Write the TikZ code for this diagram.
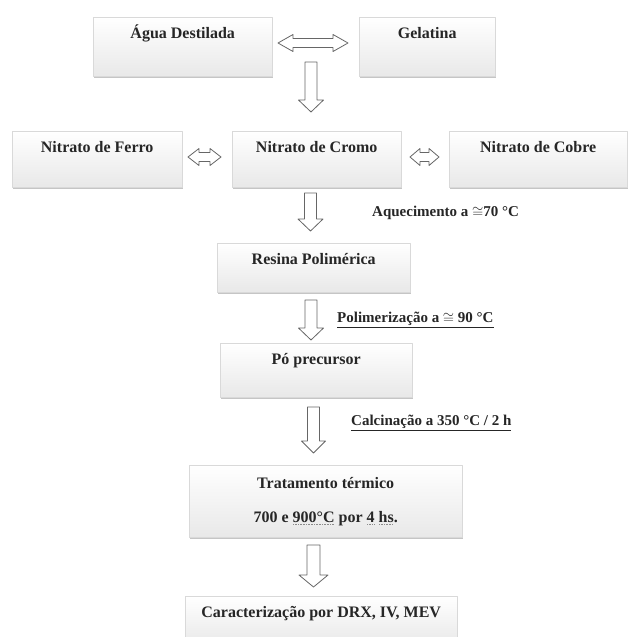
\documentclass[tikz,border=0pt]{standalone}
\usepackage{fontspec}
\setmainfont{Liberation Serif}
\usetikzlibrary{shadows}
\newcommand\pontilhado[1]{\setbox0\hbox{#1}\rlap{\raisebox{-2.5pt}{\color{black!45}\hbox to\wd0{\leaders\hbox to 1.6pt{\hss\rule{0.7pt}{0.7pt}\hss}\hfill}}}\box0\relax}
\newcommand\setabaixo[5]{\draw[seta] (#1-#4,#2) -- (#1+#4,#2) -- (#1+#4,#3-12) -- (#1+#5,#3-12) -- (#1,#3)
	-- (#1-#5,#3-12) -- (#1-#4,#3-12) -- cycle;}
\newcommand\setadupla[4]{\draw[seta] (#1,#3) -- (#1+#4,#3-8.5) -- (#1+#4,#3-4.5) -- (#2-#4,#3-4.5) -- (#2-#4,#3-8.5) -- (#2,#3)
	-- (#2-#4,#3+8.5) -- (#2-#4,#3+4.5) -- (#1+#4,#3+4.5) -- (#1+#4,#3+8.5) -- cycle;}
\begin{document}
\begin{tikzpicture}[
	x=1pt, y=-1pt, line join=round,
	caixa/.style={draw=black!15, top color=white, bottom color=black!9, anchor=north west,
		font=\fontsize{16pt}{19pt}\selectfont\bfseries, text=black!85, align=center,
		inner xsep=2pt, inner ysep=8pt, text height=13pt,
		drop shadow={shadow xshift=.8pt, shadow yshift=-2pt, fill=black!45, opacity=.5}},
	etapa/.style={anchor=west, inner sep=0pt, font=\fontsize{15pt}{18pt}\selectfont\bfseries, text=black!85},
	seta/.style={draw=black!60, fill=white, line width=.8pt}
	]
	\useasboundingbox[fill=white] (0,0) rectangle (628,637);
	\node[caixa, minimum width=179pt, text depth=30pt] (agua) at (93,17) {Água Destilada};
	\node[caixa, minimum width=136pt, text depth=30pt] (gelatina) at (359,17) {Gelatina};
	\setadupla{278}{348}{43}{15}
	\setabaixo{311}{62}{112}{6}{12.5}
	\node[caixa, minimum width=170pt, text depth=27pt] (ferro) at (12,131) {Nitrato de Ferro};
	\node[caixa, minimum width=169pt, text depth=27pt] (cromo) at (232,131) {Nitrato de Cromo};
	\node[caixa, minimum width=178pt, text depth=27pt] (cobre) at (449,131) {Nitrato de Cobre};
	\setadupla{188}{221}{157}{11}
	\setadupla{410}{439}{157}{10}
	\setabaixo{310.5}{193}{231}{6}{12.5}
	\node[etapa] (aquec) at (372,213) {Aquecimento a $\cong$70 °C};
	\node[caixa, minimum width=193pt, text depth=20pt] (resina) at (217,243) {Resina Polimérica};
	\setabaixo{311}{300}{340}{6}{12.5}
	\node[etapa] (polim) at (337,320) {\underline{Polimerização a $\cong$ 90 °C}};
	\node[caixa, minimum width=192pt, text depth=25pt] (po) at (220,343) {Pó precursor};
	\setabaixo{313.5}{407}{453}{6}{12}
	\node[etapa] (calc) at (351,423) {\underline{Calcinação a 350 °C / 2 h}};
	\node[caixa, minimum width=273pt, minimum height=72pt, inner ysep=0pt, text height=, text depth=]
		(trat) at (189,465) {Tratamento térmico\\[15pt]700 e \pontilhado{900°C} por \pontilhado{4} \pontilhado{hs}.};
	\setabaixo{313.5}{545}{587}{6.5}{14.5}
	\node[caixa, minimum width=272pt, text depth=21pt] (carac) at (185,596) {Caracterização por DRX, IV, MEV};
\end{tikzpicture}
\end{document}
